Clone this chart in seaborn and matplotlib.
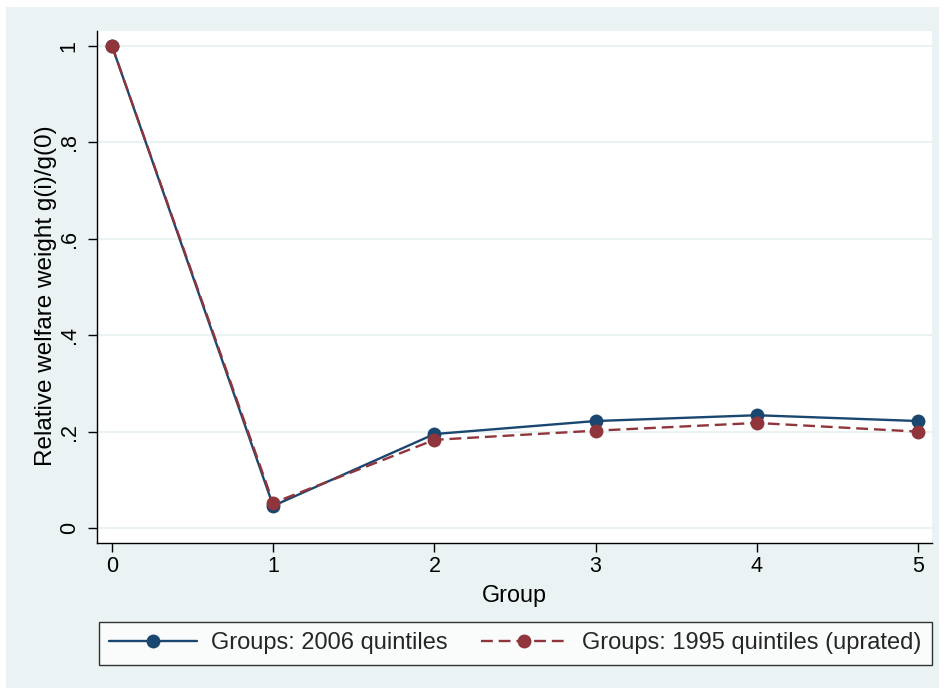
import matplotlib
matplotlib.use("Agg")
import matplotlib.pyplot as plt
import seaborn as sns
import pandas as pd
from matplotlib.patches import Rectangle
from matplotlib.lines import Line2D

groups = [0, 1, 2, 3, 4, 5]
w2006 = [1.0, 0.046, 0.195, 0.222, 0.234, 0.222]
w1995 = [1.0, 0.052, 0.183, 0.202, 0.218, 0.200]
labels = ["Groups: 2006 quintiles", "Groups: 1995 quintiles (uprated)"]
yticks = [0, 0.2, 0.4, 0.6, 0.8, 1.0]
yticklabels = ["0", ".2", ".4", ".6", ".8", "1"]

df = pd.DataFrame({
    "Group": groups * 2,
    "w": w2006 + w1995,
    "series": [labels[0]] * 6 + [labels[1]] * 6,
})

sns.set_theme(style="white")
plt.rcParams["font.family"] = ["Liberation Sans", "DejaVu Sans"]

BG = "#eaf2f3"
BLUE = "#1a476f"
RED = "#90353b"

fig = plt.figure(figsize=(9.45, 6.94), dpi=100)
fig.patch.set_facecolor("white")
fig.patches.append(Rectangle((6 / 945, 1 - 688 / 694), 933 / 945, 681 / 694,
                             transform=fig.transFigure, facecolor=BG,
                             edgecolor="none", zorder=-10))

ax = fig.add_axes([97 / 945, 1 - 543 / 694, (932 - 97) / 945, (543 - 31) / 694])
ax.set_facecolor("white")

sns.lineplot(data=df, x="Group", y="w", hue="series", style="series",
             palette=[BLUE, RED], dashes=[(None, None), (5, 2.5)],
             markers=["o", "o"], markersize=10, markeredgewidth=0,
             linewidth=1.7, ax=ax, legend=False)

ax.set_xlim(-0.093, 5.087)
ax.set_ylim(-0.031, 1.031)
ax.set_xticks(groups)
ax.set_xticklabels([str(g) for g in groups], fontsize=15.5)
ax.set_yticks(yticks)
ax.set_yticklabels(yticklabels, fontsize=15.5, rotation=90, va="center")
ax.grid(axis="y", color=BG, linewidth=1.5)
ax.set_axisbelow(True)
for s in ["top", "right"]:
    ax.spines[s].set_visible(False)
for s in ["left", "bottom"]:
    ax.spines[s].set_color("black")
    ax.spines[s].set_linewidth(1.0)
ax.tick_params(axis="x", which="both", length=6.5, width=1, color="black",
               bottom=True, pad=3, labelcolor="black")
ax.tick_params(axis="y", which="both", length=6.5, width=1, color="black",
               left=True, pad=6, labelcolor="black")
ax.set_xlabel("Group", fontsize=16.8, color="black", labelpad=5)
ax.set_ylabel("Relative welfare weight g(i)/g(0)", fontsize=17.5, color="black")
ax.yaxis.set_label_coords((57 - 97) / 835, (543 - 296) / 512)

handles = [
    Line2D([0], [0], color=BLUE, linestyle="-", marker="o", markersize=10,
           markeredgewidth=0, linewidth=1.7),
    Line2D([0], [0], color=RED, linestyle=(0, (5, 2.5)), marker="o", markersize=10,
           markeredgewidth=0, linewidth=1.7),
]
leg = fig.legend(handles, labels, loc="center",
                 bbox_to_anchor=((99 + 932) / 2 / 945, 1 - 643.5 / 694),
                 bbox_transform=fig.transFigure, ncol=2,
                 fontsize=17, frameon=True, fancybox=False, handlelength=3.7,
                 handletextpad=0.6, borderaxespad=0, columnspacing=1.4,
                 borderpad=0.45)
leg.get_frame().set_edgecolor("black")
leg.get_frame().set_linewidth(1.0)
leg.get_frame().set_facecolor("white")

fig.savefig("out.png", dpi=100, facecolor=fig.get_facecolor())
